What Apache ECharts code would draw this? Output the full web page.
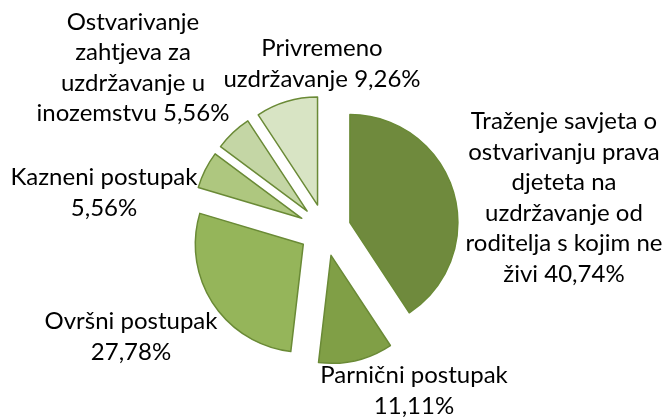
<!DOCTYPE html>
<html lang="hr">
<head>
    <meta charset="UTF-8">
    <title>Pie</title>
    <script src="https://cdn.jsdelivr.net/npm/echarts@6/dist/echarts.min.js"></script>
    <style>
        html, body { margin: 0; padding: 0; background: #fff; }
        #chart { width: 670px; height: 417px; }
    </style>
</head>
<body>
<div id="chart"></div>
<script>
    // podaci (postoci iz slike)
    const names = [
        'Traženje savjeta o ostvarivanju prava djeteta na uzdržavanje od roditelja s kojim ne živi',
        'Parnični postupak',
        'Ovršni postupak',
        'Kazneni postupak',
        'Ostvarivanje zahtjeva za uzdržavanje u inozemstvu',
        'Privremeno uzdržavanje'
    ];
    const values = [40.74, 11.11, 27.78, 5.56, 5.56, 9.26];
    const labelTexts = [
        'Traženje savjeta o\nostvarivanju prava\ndjeteta na\nuzdržavanje od\nroditelja s kojim ne\nživi 40,74%',
        'Parnični postupak\n11,11%',
        'Ovršni postupak\n27,78%',
        'Kazneni postupak\n5,56%',
        'Ostvarivanje\nzahtjeva za\nuzdržavanje u\ninozemstvu 5,56%',
        'Privremeno\nuzdržavanje 9,26%'
    ];
    const colors = ['#6F8A3D', '#809F46', '#95B55A', '#AEC77F', '#C4D6A5', '#D8E4C4'];

    // središta natpisa
    const labelPos = [[564, 198], [414, 391], [131, 337], [104, 193], [133, 68], [322, 64]];
    const explode = 26;

    // pomak izvučenog isječka (natpis ga nasljeđuje)
    const total = values.reduce((a, b) => a + b, 0);
    let acc = 0;
    const shift = values.map(v => {
        const mid = (acc + v / 2) / total * Math.PI * 2;
        acc += v;
        return [explode * Math.sin(mid), -explode * Math.cos(mid)];
    });

    const chart = echarts.init(document.getElementById('chart'));
    chart.setOption({
        animation: false,
        series: [{
            type: 'pie',
            center: [325, 230],
            radius: 108,
            startAngle: 90,
            clockwise: true,
            selectedMode: 'multiple',
            selectedOffset: explode,
            avoidLabelOverlap: false,
            emphasis: { disabled: true },
            data: names.map((n, i) => ({
                name: n,
                value: values[i],
                selected: true,
                itemStyle: { color: colors[i] },
                label: { formatter: labelTexts[i] }
            })),
            itemStyle: { borderColor: '#6A8A36', borderWidth: 1.5 },
            label: {
                show: true,
                position: 'outside',
                fontFamily: 'Lato',
                fontSize: 24,
                lineHeight: 30.5,
                color: '#000'
            },
            labelLine: { show: false },
            labelLayout: function (p) {
                const i = p.dataIndex;
                const r = p.labelRect;
                const ax = p.align === 'left' ? r.x : (p.align === 'right' ? r.x + r.width : r.x + r.width / 2);
                const ay = r.y + r.height / 2;
                return {
                    dx: labelPos[i][0] - ax - shift[i][0],
                    dy: labelPos[i][1] - ay - shift[i][1],
                    align: 'center'
                };
            }
        }]
    });
</script>
</body>
</html>
